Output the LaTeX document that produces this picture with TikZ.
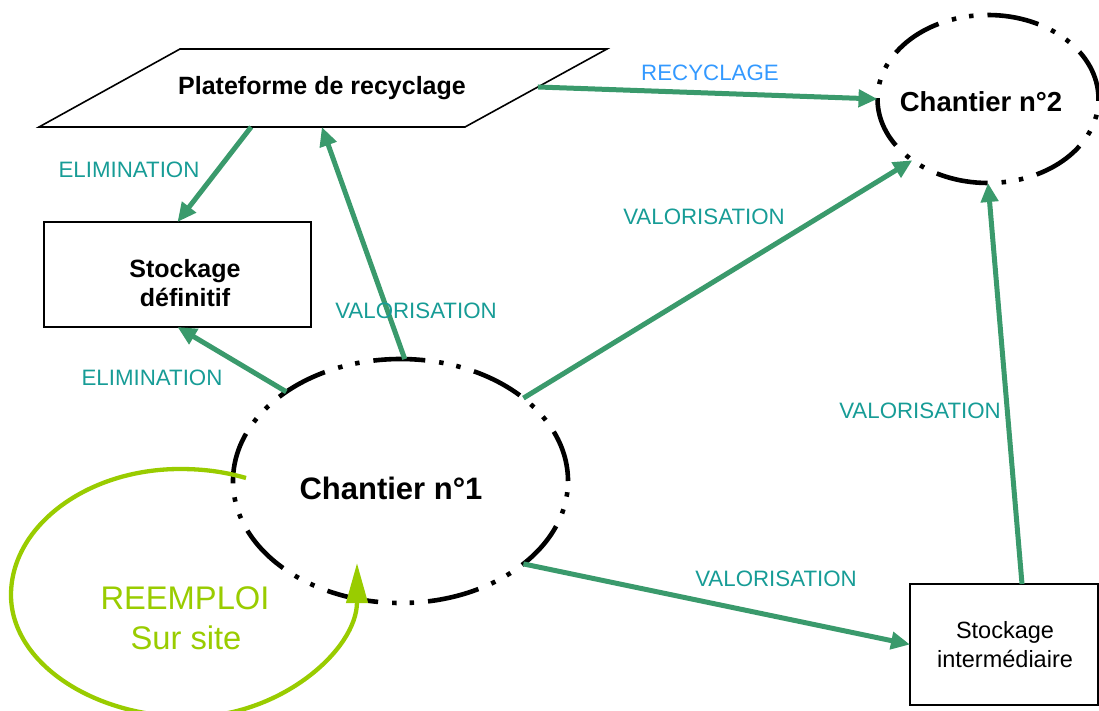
\documentclass[tikz,border=0pt]{standalone}
\usepackage{fontspec}
\setmainfont{Liberation Sans}
\usetikzlibrary{arrows.meta,shapes.geometric,calc}

\definecolor{flow}{RGB}{58,154,108}
\definecolor{lbl}{RGB}{23,156,150}
\definecolor{recy}{RGB}{51,153,255}
\definecolor{lime}{RGB}{153,204,0}

\begin{document}
\begin{tikzpicture}[x=1pt,y=-1pt,
  site/.style={ellipse, draw, line width=4.6pt, inner sep=0pt, outer sep=0pt,
    dash pattern=on 52pt off 14pt on 4.5pt off 13pt on 4.5pt off 14pt},
  box/.style={rectangle, draw, line width=2pt, inner sep=0pt, outer sep=0pt},
  flowarrow/.style={draw=flow, line width=5pt, -{Triangle[length=19pt,width=17pt]}},
  tag/.style={text=lbl, font=\fontsize{22.3}{26}\selectfont, inner sep=0pt, anchor=base},
  boldtxt/.style={font=\bfseries\fontsize{25}{30}\selectfont, inner sep=0pt, anchor=base},
  ]
\useasboundingbox (0,0) rectangle (1099,711);

% building sites
\node[site, minimum width=335pt, minimum height=244pt] (c1) at (400.5,481) {};
\node[font=\bfseries\fontsize{31}{36}\selectfont, inner sep=0pt, anchor=base] (c1t) at (391,499) {Chantier n°1};
\node[site, minimum width=221pt, minimum height=168pt] (c2) at (988,99) {};
\node[font=\bfseries\fontsize{27.5}{32}\selectfont, inner sep=0pt, anchor=base] (c2t) at (981,112) {Chantier n°2};

% recycling platform (parallelogram)
\coordinate (pTL) at (180,49);
\coordinate (pTR) at (607,49);
\coordinate (pBR) at (465,127);
\coordinate (pBL) at (39,127);
\draw[line width=1.6pt] (pTL) -- (pTR) -- (pBR) -- (pBL) -- cycle;
\node[boldtxt] (plat) at (322,95) {Plateforme de recyclage};
\coordinate (plat-r) at ($(pTR)!0.487!(pBR)$);
\coordinate (plat-b1) at ($(pBL)!0.498!(pBR)$);
\coordinate (plat-b2) at ($(pBL)!0.664!(pBR)$);

% storage boxes
\node[box, minimum width=267pt, minimum height=105pt] (sd) at (177.5,274.5) {};
\node[boldtxt] (sd1) at (185,277) {Stockage};
\node[boldtxt] (sd2) at (185,306) {définitif};

\node[box, minimum width=188pt, minimum height=121pt] (si) at (1004,644.5) {};
\node[font=\fontsize{23.5}{28}\selectfont, inner sep=0pt, anchor=base] (si1) at (1005,638) {Stockage};
\node[font=\fontsize{23.5}{28}\selectfont, inner sep=0pt, anchor=base] (si2) at (1005,667) {intermédiaire};

% flows
\draw[flowarrow] (plat-r) -- (c2.180);
\draw[flowarrow] (plat-b1) -- (sd.north);
\draw[flowarrow] (c1.88) -- (plat-b2);
\draw[flowarrow] (c1.142) -- (sd.south);
\draw[flowarrow] (c1.34) -- (c2.219);
\draw[flowarrow] (c1.-34) -- (si.west);
\draw[flowarrow] ([xshift=18pt]si.north) -- (c2.270);

% flow labels
\node[tag, text=recy] (l1) at (710,81) {RECYCLAGE};
\node[tag] (l2) at (129,178) {ELIMINATION};
\node[tag] (l3) at (416,318) {VALORISATION};
\node[tag] (l4) at (152,385) {ELIMINATION};
\node[tag] (l5) at (704,225) {VALORISATION};
\node[tag] (l6) at (776,586) {VALORISATION};
\node[tag] (l7) at (920,418) {VALORISATION};

% on-site reuse loop
\coordinate (loopstart) at (246,478);
\coordinate (loopend) at (357,563);
\draw[lime, line width=4.3pt, -{Triangle[length=40pt,width=21pt]}]
  (loopstart) .. controls (225,472) and (205,469) .. (180,469)
  .. controls (87,469) and (11,526) .. (11,595)
  .. controls (11,662) and (92,717) .. (190,717)
  .. controls (280,717) and (357,650) .. (loopend);
\node[text=lime, font=\fontsize{32.7}{40}\selectfont, inner sep=0pt, anchor=base] (r1) at (185,609) {REEMPLOI};
\node[text=lime, font=\fontsize{32.7}{40}\selectfont, inner sep=0pt, anchor=base] (r2) at (186,649) {Sur site};
\end{tikzpicture}
\end{document}
